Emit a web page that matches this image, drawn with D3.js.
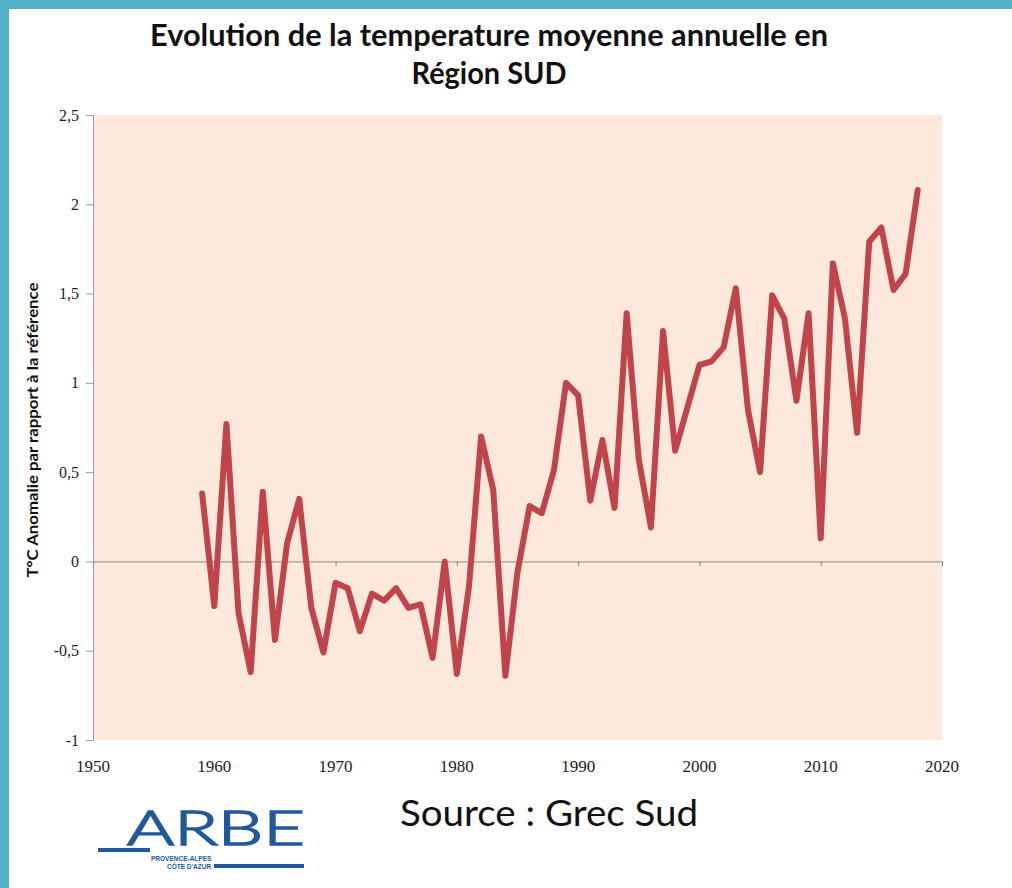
<!DOCTYPE html>
<html>
<head>
<meta charset="utf-8">
<script src="https://cdn.jsdelivr.net/npm/d3@7"></script>
<style>
  body { margin: 0; background: #ffffff; }
  svg { display: block; }
</style>
</head>
<body>
<div id="chart"></div>
<script>
// data
var years = [1959, 1960, 1961, 1962, 1963, 1964, 1965, 1966, 1967, 1968,
             1969, 1970, 1971, 1972, 1973, 1974, 1975, 1976, 1977, 1978,
             1979, 1980, 1981, 1982, 1983, 1984, 1985, 1986, 1987, 1988,
             1989, 1990, 1991, 1992, 1993, 1994, 1995, 1996, 1997, 1998,
             1999, 2000, 2001, 2002, 2003, 2004, 2005, 2006, 2007, 2008,
             2009, 2010, 2011, 2012, 2013, 2014, 2015, 2016, 2017, 2018];
var anomalies = [0.38, -0.25, 0.77, -0.29, -0.62, 0.39, -0.44, 0.10, 0.35, -0.26,
                 -0.51, -0.12, -0.15, -0.39, -0.18, -0.22, -0.15, -0.26, -0.24, -0.54,
                 0.00, -0.63, -0.14, 0.70, 0.40, -0.64, -0.06, 0.31, 0.27, 0.51,
                 1.00, 0.93, 0.34, 0.68, 0.30, 1.39, 0.57, 0.19, 1.29, 0.62,
                 0.86, 1.10, 1.12, 1.20, 1.53, 0.85, 0.50, 1.49, 1.36, 0.90,
                 1.39, 0.13, 1.67, 1.36, 0.72, 1.79, 1.87, 1.52, 1.61, 2.08];
var xTicks = [1950, 1960, 1970, 1980, 1990, 2000, 2010, 2020];
var yTicks = [-1, -0.5, 0, 0.5, 1, 1.5, 2, 2.5];
var yTickLabels = ["-1", "-0,5", "0", "0,5", "1", "1,5", "2", "2,5"];
var titleLines = ["Evolution de la temperature moyenne annuelle en", "Région SUD"];
var yTitle = "T°C Anomalie par rapport à la référence";
var sourceText = "Source : Grec Sud";

var width = 1012;
var height = 888;
var plot = { left: 93, right: 942, top: 115, bottom: 740 };

var svg = d3.select("#chart")
  .append("svg")
  .attr("width", width)
  .attr("height", height);

// frame (teal bands top and left)
svg.append("rect").attr("x", 0).attr("y", 0).attr("width", width).attr("height", 9).attr("fill", "#52b3c8");
svg.append("rect").attr("x", 0).attr("y", 0).attr("width", 9).attr("height", height).attr("fill", "#52b3c8");

var x = d3.scaleLinear().domain([1950, 2020]).range([plot.left, plot.right]);
var y = d3.scaleLinear().domain([-1, 2.5]).range([plot.bottom, plot.top]);

// plot background
svg.append("rect")
  .attr("x", plot.left)
  .attr("y", plot.top)
  .attr("width", plot.right - plot.left)
  .attr("height", plot.bottom - plot.top)
  .attr("fill", "#fde9dc");

// title
svg.selectAll(".title")
  .data(titleLines)
  .enter().append("text")
  .attr("class", "title")
  .attr("x", 489)
  .attr("y", function(d, i) { return 46 + i * 38; })
  .attr("text-anchor", "middle")
  .attr("textLength", function(d, i) { return i == 0 ? 678 : 155; })
  .attr("lengthAdjust", "spacingAndGlyphs")
  .style("font-family", "Lato, 'Open Sans', sans-serif")
  .style("font-weight", "bold")
  .style("font-size", "30px")
  .style("fill", "#111")
  .text(function(d) { return d; });

// y axis
var yAxis = d3.axisLeft(y)
  .tickValues(yTicks)
  .tickSize(7)
  .tickPadding(7)
  .tickFormat(function(d, i) { return yTickLabels[i]; });

var gy = svg.append("g")
  .attr("transform", "translate(" + plot.left + ",0)")
  .call(yAxis);
gy.select(".domain").attr("stroke", "#9a9a9a");
gy.selectAll(".tick line").attr("stroke", "#9a9a9a");
gy.selectAll(".tick text")
  .style("font-family", "'Liberation Serif', 'DejaVu Serif', serif")
  .style("font-size", "16px")
  .style("fill", "#222");

// x axis sits on the zero line, labels stay at the bottom
var xAxis = d3.axisBottom(x)
  .tickValues(xTicks)
  .tickSize(5)
  .tickFormat("");

var gx = svg.append("g")
  .attr("transform", "translate(0," + y(0) + ")")
  .call(xAxis);
gx.select(".domain").attr("stroke", "#8a8a8a");
gx.selectAll(".tick line").attr("stroke", "#8a8a8a");

svg.selectAll(".xlabel")
  .data(xTicks)
  .enter().append("text")
  .attr("class", "xlabel")
  .attr("x", function(d) { return x(d); })
  .attr("y", 772)
  .attr("text-anchor", "middle")
  .style("font-family", "'Liberation Serif', 'DejaVu Serif', serif")
  .style("font-size", "17px")
  .style("fill", "#222")
  .text(function(d) { return d; });

// y axis title
svg.append("text")
  .attr("transform", "translate(38,430) rotate(-90)")
  .attr("text-anchor", "middle")
  .attr("textLength", 295)
  .attr("lengthAdjust", "spacingAndGlyphs")
  .style("font-family", "Lato, 'Open Sans', sans-serif")
  .style("font-weight", "bold")
  .style("font-size", "15px")
  .style("fill", "#111")
  .text(yTitle);

// the series
var line = d3.line()
  .x(function(d, i) { return x(years[i]); })
  .y(function(d) { return y(d); });

svg.append("path")
  .datum(anomalies)
  .attr("d", line)
  .attr("fill", "none")
  .attr("stroke", "#c1444a")
  .attr("stroke-width", 6)
  .attr("stroke-linejoin", "round")
  .attr("stroke-linecap", "round");

// source
svg.append("text")
  .attr("x", 400)
  .attr("y", 826)
  .attr("textLength", 298)
  .attr("lengthAdjust", "spacingAndGlyphs")
  .style("font-family", "Lato, 'Open Sans', sans-serif")
  .style("font-size", "36px")
  .style("fill", "#111")
  .text(sourceText);

// ARBE logo, roughly
var logo = svg.append("g").attr("fill", "#22599a").attr("stroke", "#22599a");
logo.append("text")
  .attr("x", 127)
  .attr("y", 845)
  .attr("textLength", 178)
  .attr("lengthAdjust", "spacingAndGlyphs")
  .attr("stroke-width", 1.6)
  .style("font-family", "Lato, sans-serif")
  .style("font-size", "47px")
  .style("font-weight", "300")
  .text("ARBE");
logo.append("line").attr("x1", 98).attr("x2", 150).attr("y1", 850).attr("y2", 850).attr("stroke-width", 4);
logo.append("line").attr("x1", 214).attr("x2", 304).attr("y1", 866).attr("y2", 866).attr("stroke-width", 4);
logo.append("text")
  .attr("x", 151).attr("y", 861)
  .attr("stroke", "none")
  .style("font-family", "'Liberation Sans', sans-serif")
  .style("font-size", "6.5px")
  .style("font-weight", "bold")
  .text("PROVENCE-ALPES");
logo.append("text")
  .attr("x", 167).attr("y", 869)
  .attr("stroke", "none")
  .style("font-family", "'Liberation Sans', sans-serif")
  .style("font-size", "6.5px")
  .style("font-weight", "bold")
  .text("CÔTE D'AZUR");
</script>
</body>
</html>
